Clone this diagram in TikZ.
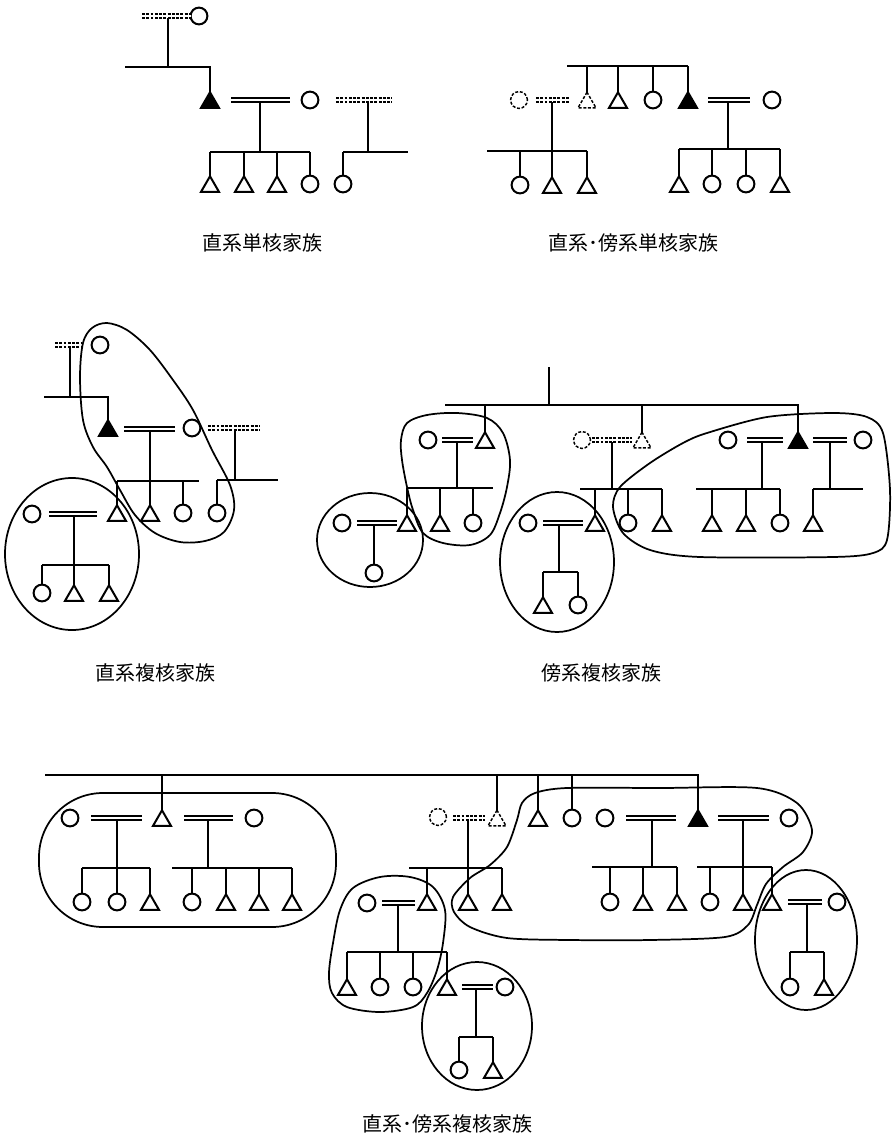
\documentclass[tikz,border=0pt]{standalone}
\usepackage{fontspec}
\newfontfamily\jpfont{Noto Sans CJK JP}
\usetikzlibrary{shapes.geometric}
\tikzset{
  fem/.style={circle, draw, line width=1.5pt, minimum size=12.6pt, inner sep=0pt, outer sep=0pt},
  mal/.style={regular polygon, regular polygon sides=3, draw, line width=1.5pt, minimum size=15.6pt, inner sep=0pt, outer sep=0pt, yshift=-2pt},
  ego/.style={mal, fill=black},
  dfem/.style={fem, line width=1.1pt, dash pattern=on 2.2pt off 1.3pt},
  dmal/.style={mal, line width=1.1pt, dash pattern=on 2.2pt off 1.3pt},
  mar/.style={double, double distance=1.5pt, line width=1.2pt},
  dmar/.style={mar, dash pattern=on 2.2pt off 1pt},
  grp/.style={line width=1.3pt},
  lab/.style={font=\jpfont\fontsize{15pt}{18pt}\selectfont}
}
\begin{document}
\begin{tikzpicture}[x=0.75pt, y=-0.75pt, line width=1.65pt]
\fill[white] (0,0) rectangle (893,1139);
\useasboundingbox (0,0) rectangle (893,1139);

%% ===== Diagram 1 =====
\node[fem] (a1) at (199,16) {};
\node[ego] (a2) at (210,100) {};
\node[fem] (a3) at (310,100) {};
\node[mal] (a4) at (210,184) {};
\node[mal] (a5) at (244,184) {};
\node[mal] (a6) at (277,184) {};
\node[fem] (a7) at (310,184) {};
\node[fem] (a8) at (343,184) {};
\draw[dmar] (142,16) -- (a1.west);
\draw (168,18) -- (168,67);
\draw (125,67) -- (210,67) -- (a2.north);
\draw[mar] (231,100) -- (290,100);
\draw[dmar] (336,100) -- (392,100);
\draw (260,102) -- (260,152);
\draw (210,152) -- (310,152);
\foreach \n in {a4,a5,a6,a7} \draw (\n.north) -- (\n.north |- 0,152);
\draw (368,102) -- (368,152);
\draw (343,152) -- (408,152);
\draw (a8.north) -- (a8.north |- 0,152);
\node[lab] (l1) at (262,243) {直系単核家族};

%% ===== Diagram 2 =====
\node[dfem] (b1) at (519,100) {};
\node[dmal] (b2) at (587,100) {};
\node[mal] (b3) at (618,100) {};
\node[fem] (b4) at (653,100) {};
\node[ego] (b5) at (688,100) {};
\node[fem] (b6) at (772,100) {};
\draw (567,66) -- (688,66);
\foreach \n in {b2,b3,b4,b5} \draw (\n.north) -- (\n.north |- 0,66);
\draw[dmar] (536,100) -- (570,100);
\draw[mar] (708,100) -- (750,100);
\node[fem] (b7) at (520,185) {};
\node[mal] (b8) at (552,185) {};
\node[mal] (b9) at (587,185) {};
\draw (552,102) -- (552,151);
\draw (487,151) -- (587,151);
\foreach \n in {b7,b8,b9} \draw (\n.north) -- (\n.north |- 0,151);
\node[mal] (b10) at (679,184) {};
\node[fem] (b11) at (712,184) {};
\node[fem] (b12) at (746,184) {};
\node[mal] (b13) at (780,184) {};
\draw (728,102) -- (728,149);
\draw (679,149) -- (780,149);
\foreach \n in {b10,b11,b12,b13} \draw (\n.north) -- (\n.north |- 0,149);
\node[lab] (l2) at (633,243) {直系･傍系単核家族};

%% ===== Diagram 3 =====
\node[fem] (c1) at (100,345) {};
\draw[dmar] (55,345) -- (82,345);
\draw (70,347) -- (70,397);
\node[ego] (c2) at (108,428) {};
\draw (44,397) -- (108,397) -- (c2.north);
\node[fem] (c3) at (192,428) {};
\draw[mar] (124,429) -- (175,429);
\draw[dmar] (208,428) -- (260,428);
\node[mal] (c4) at (117,513) {};
\node[mal] (c5) at (150,513) {};
\node[fem] (c6) at (183,513) {};
\node[fem] (c7) at (217,513) {};
\draw (150,431) -- (150,481);
\draw (117,481) -- (199,481);
\foreach \n in {c4,c5,c6} \draw (\n.north) -- (\n.north |- 0,481);
\draw (235,430) -- (235,480);
\draw (217,480) -- (278,480);
\draw (c7.north) -- (c7.north |- 0,480);
\node[fem] (c8) at (32,514) {};
\draw[mar] (49,514) -- (97,514);
\draw (74,516) -- (74,565);
\draw (42,565) -- (109,565);
\node[fem] (c9) at (42,593) {};
\node[mal] (c10) at (74,593) {};
\node[mal] (c11) at (109,593) {};
\foreach \n in {c9,c10,c11} \draw (\n.north) -- (\n.north |- 0,565);
\draw[grp] (72,554) ellipse [x radius=50.25pt, y radius=57pt];
\draw[grp] plot[smooth cycle, tension=0.55] coordinates {
  (107,323) (127,330) (150,350) (173,380) (193,410) (212,450) (230,485)
  (234,510) (224,532) (205,541) (180,542) (155,533) (135,515) (120,490)
  (107,467) (93,447) (83,420) (80,377) (83,343) (92,328)};
\node[lab] (l3) at (155,673) {直系複核家族};

%% ===== Diagram 4 =====
\draw (549,367) -- (549,405);
\node[fem] (d1) at (428,440) {};
\node[mal] (d3) at (485,440) {};
\node[dfem] (d5) at (582,440) {};
\node[dmal] (d6) at (642,440) {};
\node[fem] (d7) at (728,440) {};
\node[ego] (d8) at (798,440) {};
\node[fem] (d9) at (863,440) {};
\draw (445,405) -- (798,405) -- (d8.north);
\draw (d3.north) -- (d3.north |- 0,405);
\draw (d6.north) -- (d6.north |- 0,405);
\draw[mar] (442,440) -- (473,440);
\draw[dmar] (592,440) -- (632,440);
\draw[mar] (747,440) -- (783,440);
\draw[mar] (813,440) -- (847,440);
% family A
\node[mal] (e1) at (407,523) {};
\node[mal] (e2) at (440,523) {};
\node[fem] (e3) at (473,523) {};
\draw (457,442) -- (457,488);
\draw (407,488) -- (493,488);
\foreach \n in {e1,e2,e3} \draw (\n.north) -- (\n.north |- 0,488);
% family B
\node[fem] (e0) at (342,523) {};
\draw[mar] (357,523) -- (397,523);
\node[fem] (e4) at (374,573) {};
\draw (374,525) -- (e4.north);
\draw[grp] (370,540) ellipse [x radius=39.75pt, y radius=35.25pt];
\draw[grp] plot[smooth cycle, tension=0.55] coordinates {
  (457,413) (487,418) (503,433) (510,460) (507,487) (500,513) (490,535)
  (470,545) (443,543) (423,533) (413,510) (407,487) (402,460) (401,440)
  (407,423) (427,415)};
% dashed couple children
\node[mal] (f1) at (595,523) {};
\node[fem] (f2) at (628,523) {};
\node[mal] (f3) at (662,523) {};
\draw (612,442) -- (612,489);
\draw (580,489) -- (662,489);
\foreach \n in {f1,f2,f3} \draw (\n.north) -- (\n.north |- 0,489);
% family C
\node[fem] (f0) at (528,523) {};
\draw[mar] (543,523) -- (583,523);
\draw (559,525) -- (559,572);
\draw (543,572) -- (578,572);
\node[mal] (f4) at (543,605) {};
\node[fem] (f5) at (578,605) {};
\foreach \n in {f4,f5} \draw (\n.north) -- (\n.north |- 0,572);
\draw[grp] (557,562) ellipse [x radius=42.75pt, y radius=52.5pt];
% family D
\node[mal] (g1) at (712,523) {};
\node[mal] (g2) at (746,523) {};
\node[fem] (g3) at (780,523) {};
\node[mal] (g4) at (813,523) {};
\draw (762,442) -- (762,489);
\draw (696,489) -- (780,489);
\foreach \n in {g1,g2,g3} \draw (\n.north) -- (\n.north |- 0,489);
\draw (830,442) -- (830,489);
\draw (813,489) -- (863,489);
\draw (g4.north) -- (g4.north |- 0,489);
\draw[grp] plot[smooth cycle, tension=0.5] coordinates {
  (707,433) (767,417) (833,413) (867,417) (883,433) (890,490) (887,540)
  (873,553) (833,557) (700,557) (650,550) (623,533) (613,507) (620,487)
  (650,463) (683,443)};
\node[lab] (l4) at (601,673) {傍系複核家族};

%% ===== Diagram 5 =====
\node[fem] (h1) at (70,818) {};
\node[mal] (h3) at (162,818) {};
\node[fem] (h5) at (254,818) {};
\node[dfem] (i1) at (438,817) {};
\node[dmal] (i3) at (497,818) {};
\node[mal] (i4) at (538,818) {};
\node[fem] (i5) at (572,818) {};
\node[fem] (i6) at (605,818) {};
\node[ego] (i8) at (698,818) {};
\node[fem] (i9) at (789,818) {};
\draw (45,775) -- (698,775) -- (i8.north);
\foreach \n in {h3,i3,i4,i5} \draw (\n.north) -- (\n.north |- 0,775);
\draw[mar] (91,818) -- (142,818);
\draw[mar] (184,818) -- (233,818);
\draw[dmar] (453,818) -- (485,818);
\draw[mar] (626,818) -- (676,818);
\draw[mar] (718,818) -- (769,818);
% family E children
\node[fem] (h6) at (82,902) {};
\node[fem] (h7) at (117,902) {};
\node[mal] (h8) at (150,902) {};
\draw (117,820) -- (117,868);
\draw (82,868) -- (150,868);
\foreach \n in {h6,h7,h8} \draw (\n.north) -- (\n.north |- 0,868);
\node[fem] (h9) at (192,902) {};
\node[mal] (h10) at (226,902) {};
\node[mal] (h11) at (259,902) {};
\node[mal] (h12) at (292,902) {};
\draw (208,820) -- (208,868);
\draw (172,868) -- (292,868);
\foreach \n in {h9,h10,h11,h12} \draw (\n.north) -- (\n.north |- 0,868);
\draw[grp, rounded corners=48pt] (39,793) rectangle (336,927);
% dashed couple children
\node[mal] (j1) at (427,902) {};
\node[mal] (j2) at (468,902) {};
\node[mal] (j3) at (502,902) {};
\draw (468,820) -- (468,868);
\draw (409,868) -- (502,868);
\foreach \n in {j1,j2,j3} \draw (\n.north) -- (\n.north |- 0,868);
% ego's children
\node[fem] (k1) at (610,902) {};
\node[mal] (k2) at (643,902) {};
\node[mal] (k3) at (677,902) {};
\draw (652,820) -- (652,867);
\draw (592,867) -- (677,867);
\foreach \n in {k1,k2,k3} \draw (\n.north) -- (\n.north |- 0,867);
\node[fem] (k4) at (710,902) {};
\node[mal] (k5) at (743,902) {};
\node[mal] (k6) at (772,902) {};
\draw (743,820) -- (k5.north);
\draw (697,867) -- (772,867);
\foreach \n in {k4,k6} \draw (\n.north) -- (\n.north |- 0,867);
% family F
\node[fem] (l1f) at (837,902) {};
\draw[mar] (788,902) -- (822,902);
\draw (807,904) -- (807,952);
\draw (790,952) -- (824,952);
\node[fem] (l2f) at (790,987) {};
\node[mal] (l3f) at (824,987) {};
\foreach \n in {l2f,l3f} \draw (\n.north) -- (\n.north |- 0,952);
\draw[grp] (806,940) ellipse [x radius=38.25pt, y radius=52.5pt];
% family G
\node[fem] (m1) at (367,903) {};
\draw[mar] (382,903) -- (415,903);
\draw (398,905) -- (398,952);
\draw (347,952) -- (447,952);
\node[mal] (n1) at (347,987) {};
\node[fem] (n2) at (380,987) {};
\node[fem] (n3) at (413,987) {};
\node[mal] (n4) at (447,987) {};
\foreach \n in {n1,n2,n3,n4} \draw (\n.north) -- (\n.north |- 0,952);
\draw[grp] plot[smooth cycle, tension=0.55] coordinates {
  (353,888) (380,877) (410,877) (433,887) (445,910) (443,943) (437,970)
  (427,993) (413,1007) (380,1012) (347,1007) (332,993) (329,973) (333,943)
  (340,910)};
% family H
\node[fem] (n5) at (505,987) {};
\draw[mar] (462,987) -- (493,987);
\draw (476,989) -- (476,1037);
\draw (459,1037) -- (493,1037);
\node[fem] (n6) at (459,1070) {};
\node[mal] (n7) at (493,1070) {};
\foreach \n in {n6,n7} \draw (\n.north) -- (\n.north |- 0,1037);
\draw[grp] (477,1026) ellipse [x radius=41.25pt, y radius=48pt];
% big loop I
\draw[grp] plot[smooth cycle, tension=0.5] coordinates {
  (453,897) (470,878) (490,865) (507,847) (517,820) (522,803) (535,793)
  (567,788) (660,788) (757,788) (797,803) (812,830) (803,852) (783,867)
  (766,884) (757,905) (748,925) (725,937) (650,940) (570,940) (507,938)
  (470,927) (454,912)};
\node[lab] (l5) at (447,1124) {直系･傍系複核家族};
\end{tikzpicture}
\end{document}
